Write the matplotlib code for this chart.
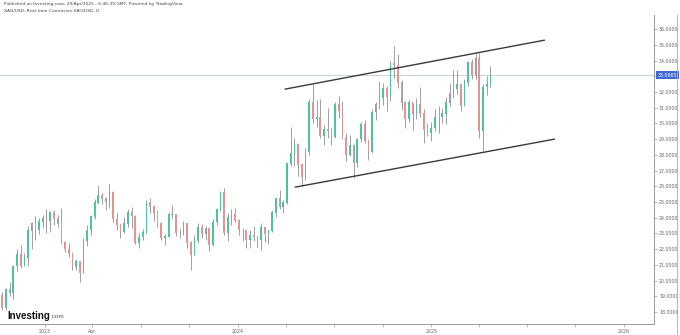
import numpy as np
import pandas as pd
import matplotlib
matplotlib.use('Agg')
import matplotlib.pyplot as plt
import matplotlib.dates as mdates
import matplotlib.transforms as mtransforms
from matplotlib.lines import Line2D

# weekly XAG/USD candles (week ending Friday)
first_open = 19.05
close = [18.25, 19.40, 19.20, 20.90, 21.65, 20.95, 21.45, 23.15, 23.65, 23.25, 23.75, 23.95,
         23.80, 24.30, 23.95, 23.60, 22.40, 22.00, 21.70, 20.85, 21.20, 20.50, 22.55, 23.20,
         24.05, 24.95, 25.40, 25.20, 25.00, 25.60, 23.90, 23.55, 23.10, 23.60, 24.30, 24.10,
         22.40, 22.75, 23.05, 24.95, 24.70, 24.30, 23.60, 22.70, 22.80, 24.20, 24.20, 23.00,
         23.00, 23.60, 22.40, 21.65, 22.55, 23.40, 22.95, 23.30, 22.25, 23.70, 24.50, 25.60,
         23.00, 24.00, 24.20, 23.80,
         23.20, 23.20, 22.60, 22.85, 22.80, 22.60, 23.40, 22.95, 23.15, 24.30, 25.20, 24.70,
         24.95, 27.45, 28.05, 28.65, 27.35, 26.60, 28.20, 31.35, 30.30, 30.40, 29.20, 29.60,
         29.55, 29.15, 31.20, 30.80, 29.10, 28.00, 28.60, 27.50, 29.00, 29.95, 28.90, 28.20,
         30.70, 31.20, 31.60, 32.20, 31.70, 33.80, 33.70, 32.60, 31.30, 30.30, 31.30, 30.60,
         31.20, 30.60, 29.60, 29.40,
         29.70, 30.40, 30.40, 30.60, 31.30, 31.90, 32.20, 32.50, 31.10, 32.60, 33.90, 33.10,
         34.10, 29.55, 32.30, 32.50, 33.0665]
high = [19.30, 19.50, 19.90, 21.00, 22.00, 22.25, 21.75, 23.50, 23.70, 24.10, 24.00, 24.20,
        24.55, 24.40, 24.50, 24.15, 24.60, 22.55, 22.40, 21.80, 21.35, 21.25, 22.70, 23.55,
        24.15, 25.20, 26.10, 25.60, 25.35, 26.15, 25.70, 24.30, 23.55, 24.05, 24.55, 24.70,
        24.20, 23.00, 23.30, 25.10, 25.25, 24.80, 24.50, 23.70, 22.95, 24.35, 24.80, 24.20,
        23.30, 23.80, 23.65, 22.50, 22.90, 23.65, 23.60, 23.45, 23.35, 23.90, 24.60, 25.70,
        25.90, 24.30, 24.55, 24.60,
        23.95, 23.35, 23.30, 23.20, 23.45, 22.85, 23.65, 23.40, 23.20, 24.50, 25.25, 25.75,
        25.10, 27.50, 29.80, 29.10, 28.75, 27.10, 28.45, 31.55, 32.50, 31.50, 31.55, 29.90,
        31.00, 29.75, 31.35, 31.75, 31.40, 29.40, 29.25, 28.70, 29.10, 30.10, 30.20, 29.00,
        30.95, 31.35, 32.70, 32.55, 32.40, 33.95, 34.90, 34.40, 32.75, 31.40, 31.50, 31.30,
        31.65, 32.30, 30.95, 30.05,
        30.10, 30.95, 31.10, 31.00, 31.70, 32.60, 33.40, 33.40, 32.55, 32.80, 34.00, 34.10,
        34.55, 34.50, 32.50, 33.00, 33.65]
low = [18.10, 18.10, 19.05, 18.85, 20.60, 20.80, 20.90, 20.95, 22.00, 22.60, 22.95, 23.35,
       23.05, 23.10, 23.55, 23.40, 22.30, 21.80, 21.50, 20.70, 20.70, 19.90, 20.50, 22.20,
       22.90, 23.95, 24.90, 24.85, 24.50, 24.60, 23.75, 23.20, 22.70, 23.00, 23.40, 23.35,
       22.30, 22.10, 22.60, 23.00, 24.30, 23.80, 23.40, 22.60, 22.25, 22.80, 24.00, 22.85,
       22.70, 22.90, 22.10, 20.70, 21.60, 22.40, 22.70, 22.60, 21.90, 22.20, 23.55, 24.40,
       22.90, 22.50, 23.55, 23.70,
       22.90, 22.50, 22.05, 22.10, 22.55, 22.15, 21.95, 22.45, 22.35, 23.10, 24.05, 24.55,
       24.30, 24.90, 27.30, 27.30, 26.65, 26.00, 26.40, 28.00, 30.00, 29.80, 29.10, 28.65,
       29.10, 28.60, 29.10, 30.35, 29.00, 27.60, 27.95, 26.50, 27.20, 28.80, 28.75, 27.70,
       28.15, 30.25, 30.90, 31.20, 30.80, 31.40, 32.90, 32.25, 30.85, 29.70, 30.10, 29.60,
       30.30, 30.40, 28.75, 29.20,
       28.90, 29.55, 29.40, 30.05, 29.95, 31.10, 31.60, 31.90, 30.80, 31.10, 32.40, 32.80,
       32.80, 29.10, 28.25, 31.80, 32.35]

last_price = 33.0665
price_ticks = [18, 19, 20, 21, 22, 23, 24, 25, 26, 27, 28, 29, 30, 31, 32, 33, 34, 35, 36]
date_ticks = ['2023-01-01', '2023-04-01', '2023-07-01', '2023-10-01', '2024-01-01', '2024-04-01',
              '2024-07-01', '2024-10-01', '2025-01-01', '2025-04-01', '2025-07-01', '2025-10-01',
              '2026-01-01']
date_labels = ['2023', 'Apr', '', '', '2024', '', '', '', '2025', '', '', '', '2026']

# channel drawn on the chart: (date, price) end points
upper_line = (['2024-03-31', '2025-08-03'], [32.19, 35.30])
lower_line = (['2024-04-19', '2025-08-22'], [25.95, 29.00])

weeks = pd.date_range('2022-10-14', '2025-04-25', freq='W-FRI')
assert len(weeks) == len(close) == len(high) == len(low)
opens = [first_open] + close[:-1]

up_col = '#4fc49c'
down_col = '#e39595'
wick_col = '#6a6a6a'
axis_col = '#9a9a9a'
label_col = '#666666'

fig = plt.figure(figsize=(6.8, 3.35), dpi=100)
ax = fig.add_axes([0, 0.033, 0.962, 0.922])

xs = mdates.date2num(weeks) - 2
o = np.array(opens)
c = np.array(close)
colors = np.where(c >= o, up_col, down_col)
ax.vlines(xs, low, high, color=wick_col, lw=0.45, zorder=2)
ax.bar(xs, np.abs(c - o) + 0.04, bottom=np.minimum(o, c), width=3.0,
       color=colors, edgecolor='none', linewidth=0, zorder=3)

# last price line
ax.axhline(last_price, color='#c9d3dc', lw=0.7, zorder=1)

# channel
for d, p in (upper_line, lower_line):
    ax.plot(mdates.date2num(pd.to_datetime(d)), p, color='#3a3a3a', lw=1.0, zorder=4)

ax.set_xlim(mdates.date2num(pd.Timestamp('2022-10-08')), mdates.date2num(pd.Timestamp('2026-02-27')))
ax.set_ylim(17.24, 36.9)

ax.yaxis.tick_right()
ax.set_yticks(price_ticks)
ax.set_yticklabels(['' if p == 33 else '%.4f' % p for p in price_ticks])
ax.set_xticks(mdates.date2num(pd.to_datetime(date_ticks)))
ax.set_xticklabels(date_labels)
ax.tick_params(axis='y', length=2, width=0.5, color=axis_col, labelsize=3.4,
               labelcolor=label_col, pad=1.5)
ax.tick_params(axis='x', length=2, width=0.5, color=axis_col, labelsize=3.4,
               labelcolor=label_col, pad=1.5)
for s in ['left', 'top']:
    ax.spines[s].set_visible(False)
for s in ['right', 'bottom']:
    ax.spines[s].set_color(axis_col)
    ax.spines[s].set_linewidth(0.7)

# last price tag on the price scale
trans = mtransforms.blended_transform_factory(ax.transAxes, ax.transData)
ax.text(1.006, last_price, '%.4f' % last_price, transform=trans, fontsize=3.4, color='white',
        va='center', ha='left', clip_on=False,
        bbox=dict(boxstyle='square,pad=0.35', fc='#3f68d4', ec='none'))

# outer border of the price scale
fig.add_artist(Line2D([677 / 680, 677 / 680], [0, 0.955], color='#b5b5b5', lw=0.7))

# header
fig.text(4 / 680, 1 - 4 / 335, 'Published on Investing.com, 29/Apr/2025 - 6:46:39 GMT, Powered by TradingView.',
         fontsize=3.2, color='#444444', va='center', ha='left')
fig.text(4 / 680, 1 - 11 / 335, 'XAG/USD, Real-time Currencies:XAG/USD, D',
         fontsize=3.2, color='#444444', va='center', ha='left')

# logo
fig.text(7 / 680, 1 - 316 / 335, 'Investing', fontsize=7, fontweight='bold', color='#111111',
         family='Liberation Sans', va='center', ha='left')
fig.text(50 / 680, 1 - 317 / 335, '.com', fontsize=4.6, color='#555555',
         family='Liberation Sans', va='center', ha='left')

fig.savefig('out.png', dpi=100)
